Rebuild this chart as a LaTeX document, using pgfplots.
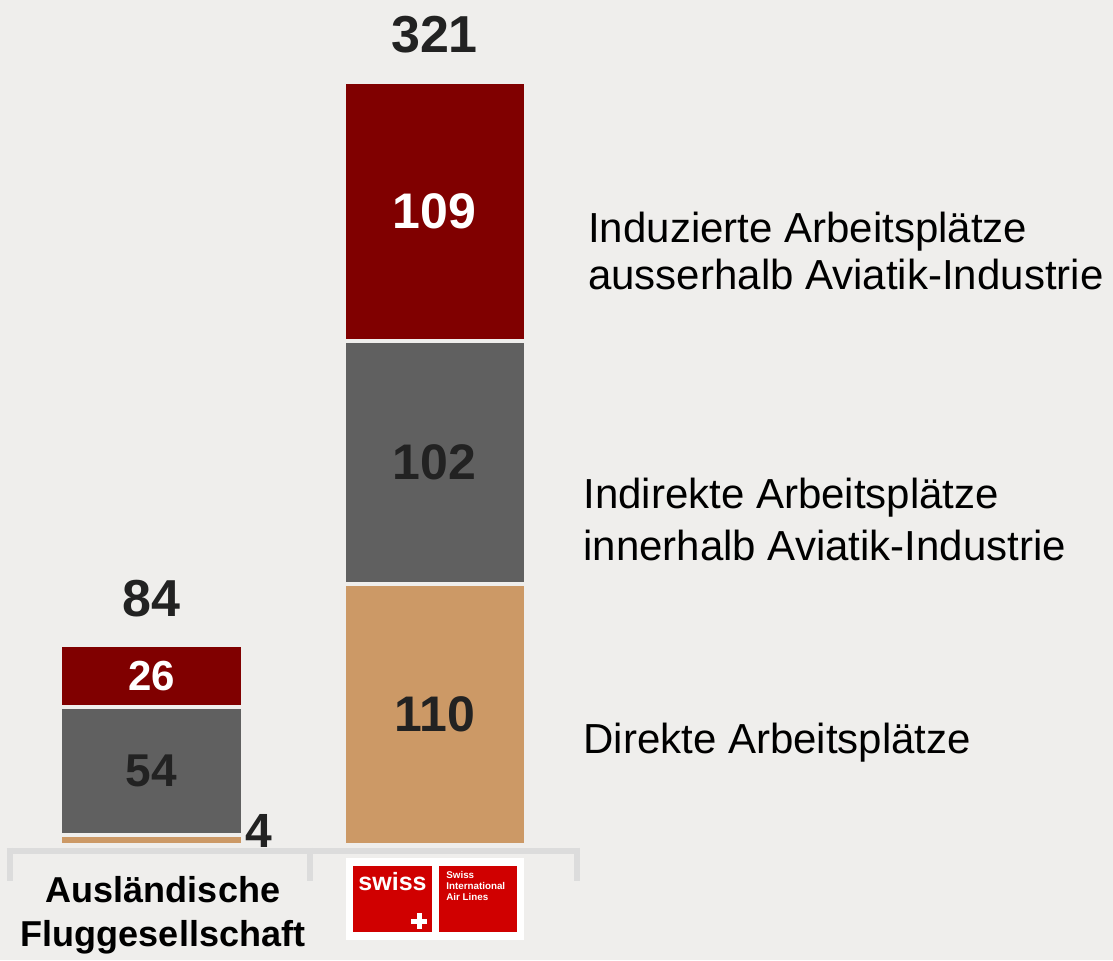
\documentclass[border=0pt]{standalone}
\usepackage{fontspec}
\setmainfont{Liberation Sans}
\usepackage{pgfplots}
\pgfplotsset{compat=1.18}
\definecolor{bg}{HTML}{EFEEEC}
\definecolor{induced}{HTML}{800000}
\definecolor{indirect}{HTML}{606060}
\definecolor{direct}{HTML}{CC9966}
\definecolor{axisgrey}{HTML}{DCDCDC}
\definecolor{swissred}{HTML}{D00000}
\definecolor{txt}{HTML}{222222}
\begin{document}
\begin{tikzpicture}[x=1pt,y=1pt]
\useasboundingbox (-5,-57.5) rectangle (551.5,422.5);
\fill[bg] (-5,-57.5) rectangle (551.5,422.5);
\begin{axis}[at={(0,0)}, anchor=south west,
  width=283pt, height=381.5pt, scale only axis,
  xmin=-0.5, xmax=1.5, ymin=0, ymax=321,
  hide axis, clip=false,
  ybar stacked, bar width=91pt]
\addplot[fill=direct, draw=bg, line width=2pt] coordinates {(0,4) (1,110)};
\addplot[fill=indirect, draw=bg, line width=2pt] coordinates {(0,54) (1,102)};
\addplot[fill=induced, draw=bg, line width=2pt] coordinates {(0,26) (1,109)};
\coordinate (t1) at (axis cs:1,321);
\coordinate (t0) at (axis cs:0,84);
\coordinate (s109) at (axis cs:1,266.5);
\coordinate (s102) at (axis cs:1,161);
\coordinate (s110) at (axis cs:1,55);
\coordinate (s26) at (axis cs:0,71);
\coordinate (s54) at (axis cs:0,31);
\coordinate (s4) at (axis cs:0,6);
\coordinate (lInd) at (axis cs:1.542,249.7);
\coordinate (lIndir) at (axis cs:1.525,137.1);
\coordinate (lDir) at (axis cs:1.525,42.9);
\end{axis}
% totals
\node[font=\bfseries\fontsize{26}{26}\selectfont, text=txt, yshift=23.5pt] at (t1) {321};
\node[font=\bfseries\fontsize{26}{26}\selectfont, text=txt, yshift=23.5pt] at (t0) {84};
% segment labels
\node[font=\bfseries\fontsize{25}{25}\selectfont, text=white] at (s109) {109};
\node[font=\bfseries\fontsize{25}{25}\selectfont, text=txt] at (s102) {102};
\node[font=\bfseries\fontsize{25}{25}\selectfont, text=txt] at (s110) {110};
\node[font=\bfseries\fontsize{21}{21}\selectfont, text=white] at (s26) {26};
\node[font=\bfseries\fontsize{23}{23}\selectfont, text=txt] at (s54) {54};
\node[font=\bfseries\fontsize{24}{24}\selectfont, text=txt, anchor=west, inner sep=0pt, xshift=47pt] at (s4) {4};
% series labels
\node[anchor=west, inner sep=0pt, align=left, text=black, font=\fontsize{21}{23.5}\selectfont] at (lInd) {Induzierte Arbeitsplätze\\ausserhalb Aviatik-Industrie};
\node[anchor=west, inner sep=0pt, align=left, text=black, font=\fontsize{21}{26}\selectfont] at (lIndir) {Indirekte Arbeitsplätze\\innerhalb Aviatik-Industrie};
\node[anchor=west, inner sep=0pt, align=left, text=black, font=\fontsize{21}{26}\selectfont] at (lDir) {Direkte Arbeitsplätze};
% axis line with separators
\draw[axisgrey, line width=3.2pt] (-1.5,-3) -- (285,-3);
\draw[axisgrey, line width=3.4pt] (0,-1.4) -- (0,-18);
\draw[axisgrey, line width=3.4pt] (150,-1.4) -- (150,-18);
\draw[axisgrey, line width=3.4pt] (283.5,-1.4) -- (283.5,-18);
% category label
\node[font=\bfseries\fontsize{18}{22}\selectfont, align=center, text=black] at (76.5,-35) {Ausländische\\Fluggesellschaft};
% swiss logo
\fill[white] (168,-6.5) rectangle (257,-47.5);
\fill[swissred] (171.5,-10.5) rectangle (211,-43.5);
\fill[swissred] (214.5,-10.5) rectangle (253.5,-43.5);
\node[font=\bfseries\fontsize{12.5}{12.5}\selectfont, text=white, inner sep=0pt] at (191.25,-18.5) {swiss};
\fill[white] (200.5,-39.25) rectangle (208.5,-36.75);
\fill[white] (203.25,-42) rectangle (205.75,-34);
\node[anchor=north west, inner sep=0pt, align=left, text=white, font=\bfseries\fontsize{4.9}{5.4}\selectfont] at (218,-13) {Swiss\\International\\Air Lines};
\end{tikzpicture}
\end{document}
